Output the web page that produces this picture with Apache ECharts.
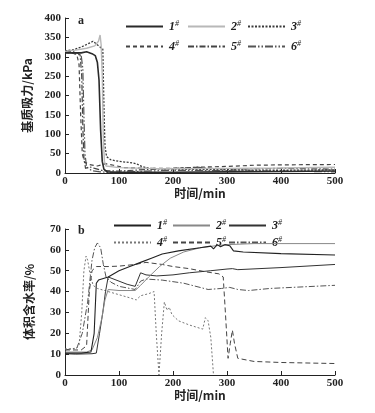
<!DOCTYPE html>
<html>
<head>
<meta charset="utf-8">
<script src="https://cdn.jsdelivr.net/npm/echarts@6/dist/echarts.min.js"></script>
<style>
  html, body { margin: 0; padding: 0; background: #fff; }
  #main { width: 375px; height: 413px; }
</style>
</head>
<body>
<div id="main"></div>
<script>
// 图a：基质吸力 (kPa)，[时间 min, 值]
const suction1 = [[0,310],[20,310],[30,310],[40,313],[50,308],[56,303],[60,285],[63,240],[66,110],[69,30],[72,10],[78,3],[100,2],[200,2],[300,3],[400,4],[500,5]];
const suction2 = [[0,314],[20,317],[40,322],[55,328],[62,340],[65,356],[67,330],[69,250],[71,90],[73,30],[76,18],[100,14],[150,12],[200,11],[300,12],[400,13],[500,15]];
const suction3 = [[0,315],[15,318],[30,325],[42,333],[52,340],[58,333],[64,326],[70,320],[72,180],[74,70],[77,42],[85,34],[100,30],[120,27],[132,24],[142,17],[155,12],[200,10],[300,8],[400,7],[500,8]];
const suction4 = [[0,311],[15,309],[22,305],[26,280],[29,150],[32,50],[36,28],[45,22],[60,18],[75,24],[90,20],[110,14],[150,12],[200,12],[250,15],[300,17],[350,20],[400,21],[500,22]];
const suction5 = [[0,315],[20,312],[28,305],[31,250],[33,120],[35,40],[38,12],[45,16],[55,12],[70,6],[100,5],[150,9],[200,12],[245,15],[255,13],[300,10],[400,12],[500,10]];
const suction6 = [[0,312],[20,308],[30,303],[33,270],[35,150],[37,50],[40,15],[50,6],[65,3],[90,1],[150,5],[200,7],[300,6],[400,5],[500,3]];

// 图b：体积含水率 (%)
const water1 = [[0,10.5],[30,10.5],[48,11],[54,20],[58,44],[62,45.5],[80,47],[100,50],[120,52],[140,54],[160,56],[180,58],[210,59.5],[250,61],[270,61.8],[275,60.5],[282,62.5],[288,61.5],[296,62.5],[305,62],[312,59.5],[330,59],[400,58.2],[500,57.5]];
const water2 = [[0,11],[40,11],[50,12],[60,18],[68,27],[74,36],[80,41],[100,40.5],[130,40.5],[140,43],[155,47],[175,52],[195,56],[220,59],[250,61],[280,62],[300,62.5],[350,63],[500,63]];
const water3 = [[0,10.2],[20,10],[50,10.2],[58,10.5],[64,20],[70,30],[75,40],[80,47],[100,45],[115,43.5],[130,42.5],[140,49],[150,48],[170,47.5],[200,48],[230,49],[270,50],[300,50.8],[310,51],[320,50.5],[400,51.5],[500,53]];
const water4 = [[0,12.5],[20,12.5],[26,14],[31,30],[35,50],[39,57],[42,55],[46,49],[52,43],[60,41.5],[80,40],[100,38.5],[120,37],[132,36],[140,38],[155,39],[165,40],[169,20],[174,0],[179,20],[184,35],[189,31],[193,32.5],[198,29],[210,26],[230,24],[255,22],[260,27.5],[265,26],[270,18],[275,0]];
const water5 = [[0,12],[30,12],[40,14],[45,40],[50,50],[58,52],[80,52],[100,52.2],[130,53],[150,54],[180,53],[200,52],[230,51],[260,49.5],[285,48.5],[293,47],[297,30],[302,8],[306,15],[310,21.5],[314,15],[320,8],[350,6.5],[400,6],[500,5.5]];
const water6 = [[0,12],[22,13],[32,20],[42,35],[50,55],[55,61],[60,63.3],[66,61],[71,53],[76,47],[85,44.5],[100,42.5],[130,41],[140,45],[150,46],[180,45.5],[220,44],[250,42],[265,41],[290,41.5],[305,42],[320,41],[340,40.5],[380,41.5],[420,42],[500,43]];

const xTicks = { min: 0, max: 500, interval: 100 };
const suctionTicks = { min: 0, max: 400, interval: 50 };
const waterTicks = { min: 0, max: 70, interval: 10 };

const serif = '"Liberation Serif", "DejaVu Serif", serif';
const cjk = '"Noto Sans CJK SC", sans-serif';

const aStyles = [
    { color: '#2a2a2a', width: 1.6, type: 'solid' },
    { color: '#b8b8b8', width: 1.4, type: 'solid' },
    { color: '#3a3a3a', width: 1.3, type: [2, 1.5] },
    { color: '#444', width: 1.2, type: [4, 3] },
    { color: '#444', width: 1.2, type: [6, 2, 1.5, 2] },
    { color: '#555', width: 1.2, type: [8, 2, 1.5, 2, 1.5, 2] }
];
const bStyles = [
    { color: '#222', width: 1.1, type: 'solid' },
    { color: '#888', width: 1, type: 'solid' },
    { color: '#333', width: 1, type: 'solid' },
    { color: '#777', width: 1, type: [2, 2] },
    { color: '#444', width: 1, type: [5, 3] },
    { color: '#555', width: 1, type: [6, 2, 1.5, 2] }
];

const aData = [suction1, suction2, suction3, suction4, suction5, suction6];
const bData = [water1, water2, water3, water4, water5, water6];

const chart = echarts.init(document.getElementById('main'));

const axisLine = { lineStyle: { color: '#222', width: 1 } };
const axisTick = { inside: true, length: 4, lineStyle: { color: '#222' } };
const axisLabel = { fontFamily: serif, fontWeight: 'bold', fontSize: 11, color: '#222' };
const nameStyle = { fontFamily: cjk, fontWeight: 'bold', fontSize: 12, color: '#222' };

const xAxisBase = (gridIndex) => ({
    type: 'value', gridIndex, ...xTicks,
    name: '时间/min', nameLocation: 'middle', nameGap: 14, nameTextStyle: nameStyle,
    axisLine, axisTick, splitLine: { show: false },
    axisLabel: { ...axisLabel, margin: 3 }
});

const series = [];
aData.forEach((d, i) => series.push({
    name: 'a' + (i + 1), type: 'line', xAxisIndex: 0, yAxisIndex: 0,
    data: d, symbol: 'none', lineStyle: aStyles[i], itemStyle: { color: aStyles[i].color }, z: 6 - i
}));
bData.forEach((d, i) => series.push({
    name: 'b' + (i + 1), type: 'line', xAxisIndex: 1, yAxisIndex: 1,
    data: d, symbol: 'none', lineStyle: bStyles[i], itemStyle: { color: bStyles[i].color }, z: 6 - i
}));

// 图例：每项单独放置
const legendPos = {
    a: { lefts: [120, 182, 242], tops: [15, 35] },
    b: { lefts: [108, 167, 223], tops: [214, 231] }
};
const legends = [];
['a', 'b'].forEach(p => {
    for (let i = 0; i < 6; i++) {
        legends.push({
            data: [p + (i + 1)],
            left: legendPos[p].lefts[i % 3],
            top: legendPos[p].tops[Math.floor(i / 3)],
            itemWidth: 37, itemHeight: 14, itemGap: 0,
            selectedMode: false,
            itemStyle: { opacity: 0 },
            formatter: name => '{n|' + name.slice(1) + '}{s|#}',
            textStyle: {
                padding: [0, 0, 0, 1],
                rich: {
                    n: { fontFamily: serif, fontStyle: 'italic', fontWeight: 'bold', fontSize: 12, color: '#222' },
                    s: { fontFamily: serif, fontStyle: 'italic', fontSize: 8, color: '#222', verticalAlign: 'top', padding: [0, 0, 5, 0] }
                }
            }
        });
    }
});

chart.setOption({
    backgroundColor: '#fff',
    animation: false,
    legend: legends,
    grid: [
        { left: 65, right: 40, top: 18, height: 155 },
        { left: 65, right: 40, top: 229, height: 146 }
    ],
    xAxis: [xAxisBase(0), xAxisBase(1)],
    yAxis: [
        {
            type: 'value', gridIndex: 0, ...suctionTicks,
            name: '基质吸力/kPa', nameLocation: 'middle', nameGap: 30, nameTextStyle: nameStyle,
            axisLine: { show: true, ...axisLine }, axisTick, splitLine: { show: false },
            axisLabel: { ...axisLabel, margin: 4 }
        },
        {
            type: 'value', gridIndex: 1, ...waterTicks,
            name: '体积含水率/%', nameLocation: 'middle', nameGap: 30, nameTextStyle: nameStyle,
            axisLine: { show: true, ...axisLine }, axisTick, splitLine: { show: false },
            axisLabel: { ...axisLabel, margin: 4 }
        }
    ],
    graphic: [
        { type: 'text', left: 78, top: 15, style: { text: 'a', font: 'bold 12px "Liberation Serif"', fill: '#222' } },
        { type: 'text', left: 78, top: 225, style: { text: 'b', font: 'bold 12px "Liberation Serif"', fill: '#222' } }
    ],
    series
});
</script>
</body>
</html>
